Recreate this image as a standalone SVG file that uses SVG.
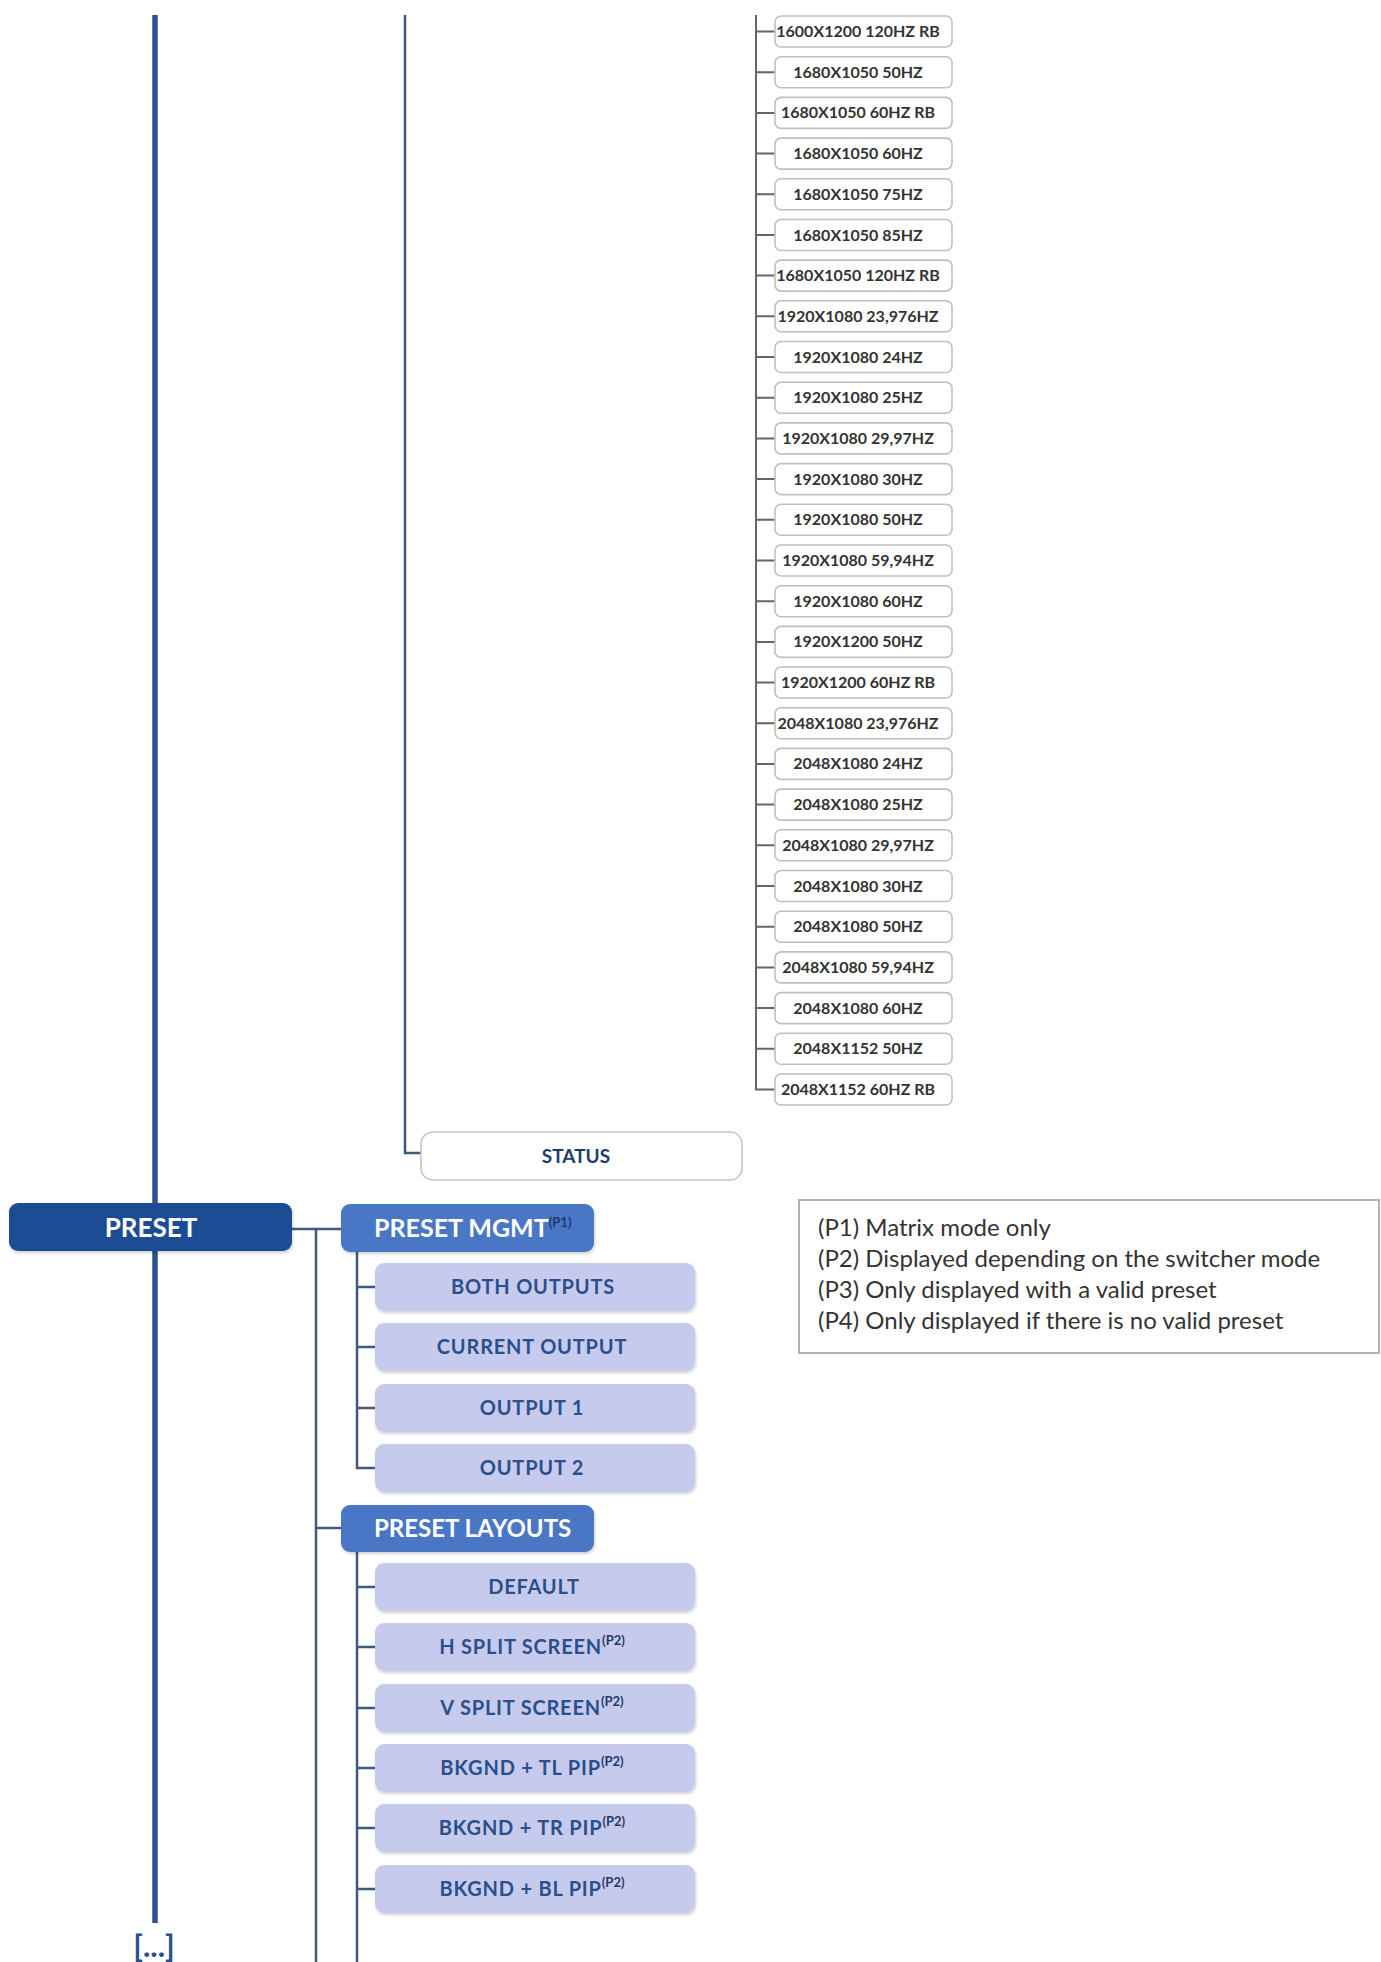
<svg xmlns="http://www.w3.org/2000/svg" width="1381" height="1962" viewBox="0 0 1381 1962">
<defs>
<filter id="sh" x="-5%" y="-20%" width="110%" height="150%">
<feDropShadow dx="1" dy="2" stdDeviation="1.5" flood-color="#000" flood-opacity="0.18"/>
</filter>
<style>
.res rect{fill:#fff;stroke:#bfbfbf;stroke-width:1.6}
.res text{font-family:Lato,"Liberation Sans",sans-serif;font-weight:bold;font-size:16px;fill:#333;text-anchor:middle}
.conn path{fill:none;stroke:#3f5a7c;stroke-width:2.5}
.conn .gray{stroke:#666;stroke-width:2}
.conn .thick{stroke:#2a5190;stroke-width:5.5}
.top rect{fill:#1d4e94}
.sub rect{fill:#4a76c5}
.leaf rect{fill:#c6cbee}
.w{font-family:Lato,"Liberation Sans",sans-serif;font-weight:bold;fill:#fff}
.lt{font-family:Lato,"Liberation Sans",sans-serif;font-weight:bold;font-size:20px;fill:#2b4f8c;letter-spacing:0.8px;text-anchor:middle}
.sup{font-size:13px;font-weight:bold;fill:#1f3a6a;letter-spacing:0}
.leg{font-family:Lato,"Liberation Sans",sans-serif;font-size:24px;fill:#333}
</style>
</defs>
<rect width="1381" height="1962" fill="#fff"/>

<g id="connectors" class="conn">
<path class="thick" d="M155 15V1923"/>
<path d="M405 15V1153H421"/>
<path class="gray" d="M756 15V1089.5H775"/>
<path class="gray" d="M756 31.5H775M756 72.2H775M756 112.9H775M756 153.6H775M756 194.3H775M756 235H775M756 275.6H775M756 316.3H775M756 357H775M756 397.7H775M756 438.4H775M756 479.1H775M756 519.8H775M756 560.5H775M756 601.2H775M756 641.9H775M756 682.5H775M756 723.2H775M756 763.9H775M756 804.6H775M756 845.3H775M756 886H775M756 926.7H775M756 967.4H775M756 1008.1H775M756 1048.8H775"/>
<path d="M292 1229H341M316 1229V1962M316 1528H341"/>
<path d="M357 1252V1468H375M357 1287H375M357 1347H375M357 1408H375"/>
<path d="M357 1552V1962M357 1587H375M357 1647H375M357 1708H375M357 1768H375M357 1828H375M357 1889H375"/>
</g>

<g class="res">
<g id="r0"><rect x="775" y="16" width="177" height="31" rx="6"/><text x="858" y="37">1600X1200 120HZ RB</text></g>
<g id="r1"><rect x="775" y="56.7" width="177" height="31" rx="6"/><text x="858" y="77.7">1680X1050 50HZ</text></g>
<g id="r2"><rect x="775" y="97.4" width="177" height="31" rx="6"/><text x="858" y="118.4">1680X1050 60HZ RB</text></g>
<g id="r3"><rect x="775" y="138.1" width="177" height="31" rx="6"/><text x="858" y="159.1">1680X1050 60HZ</text></g>
<g id="r4"><rect x="775" y="178.8" width="177" height="31" rx="6"/><text x="858" y="199.8">1680X1050 75HZ</text></g>
<g id="r5"><rect x="775" y="219.5" width="177" height="31" rx="6"/><text x="858" y="240.5">1680X1050 85HZ</text></g>
<g id="r6"><rect x="775" y="260.1" width="177" height="31" rx="6"/><text x="858" y="281.1">1680X1050 120HZ RB</text></g>
<g id="r7"><rect x="775" y="300.8" width="177" height="31" rx="6"/><text x="858" y="321.8">1920X1080 23,976HZ</text></g>
<g id="r8"><rect x="775" y="341.5" width="177" height="31" rx="6"/><text x="858" y="362.5">1920X1080 24HZ</text></g>
<g id="r9"><rect x="775" y="382.2" width="177" height="31" rx="6"/><text x="858" y="403.2">1920X1080 25HZ</text></g>
<g id="r10"><rect x="775" y="422.9" width="177" height="31" rx="6"/><text x="858" y="443.9">1920X1080 29,97HZ</text></g>
<g id="r11"><rect x="775" y="463.6" width="177" height="31" rx="6"/><text x="858" y="484.6">1920X1080 30HZ</text></g>
<g id="r12"><rect x="775" y="504.3" width="177" height="31" rx="6"/><text x="858" y="525.3">1920X1080 50HZ</text></g>
<g id="r13"><rect x="775" y="545" width="177" height="31" rx="6"/><text x="858" y="566">1920X1080 59,94HZ</text></g>
<g id="r14"><rect x="775" y="585.7" width="177" height="31" rx="6"/><text x="858" y="606.7">1920X1080 60HZ</text></g>
<g id="r15"><rect x="775" y="626.4" width="177" height="31" rx="6"/><text x="858" y="647.4">1920X1200 50HZ</text></g>
<g id="r16"><rect x="775" y="667" width="177" height="31" rx="6"/><text x="858" y="688">1920X1200 60HZ RB</text></g>
<g id="r17"><rect x="775" y="707.7" width="177" height="31" rx="6"/><text x="858" y="728.7">2048X1080 23,976HZ</text></g>
<g id="r18"><rect x="775" y="748.4" width="177" height="31" rx="6"/><text x="858" y="769.4">2048X1080 24HZ</text></g>
<g id="r19"><rect x="775" y="789.1" width="177" height="31" rx="6"/><text x="858" y="810.1">2048X1080 25HZ</text></g>
<g id="r20"><rect x="775" y="829.8" width="177" height="31" rx="6"/><text x="858" y="850.8">2048X1080 29,97HZ</text></g>
<g id="r21"><rect x="775" y="870.5" width="177" height="31" rx="6"/><text x="858" y="891.5">2048X1080 30HZ</text></g>
<g id="r22"><rect x="775" y="911.2" width="177" height="31" rx="6"/><text x="858" y="932.2">2048X1080 50HZ</text></g>
<g id="r23"><rect x="775" y="951.9" width="177" height="31" rx="6"/><text x="858" y="972.9">2048X1080 59,94HZ</text></g>
<g id="r24"><rect x="775" y="992.6" width="177" height="31" rx="6"/><text x="858" y="1013.6">2048X1080 60HZ</text></g>
<g id="r25"><rect x="775" y="1033.3" width="177" height="31" rx="6"/><text x="858" y="1054.3">2048X1152 50HZ</text></g>
<g id="r26"><rect x="775" y="1074" width="177" height="31" rx="6"/><text x="858" y="1095">2048X1152 60HZ RB</text></g>
</g>

<g id="status"><rect x="421" y="1132" width="321" height="48" rx="12" fill="#fff" stroke="#bfc4cc" stroke-width="1.6"/><text x="576" y="1163" font-family="Lato, 'Liberation Sans', sans-serif" font-weight="bold" font-size="19" fill="#1f3d6b" text-anchor="middle">STATUS</text></g>

<g id="preset" class="top"><rect x="9" y="1203" width="283" height="48" rx="9" filter="url(#sh)"/><text class="w" x="151" y="1237" font-size="26" text-anchor="middle">PRESET</text></g>

<g id="preset-mgmt" class="sub"><rect x="341" y="1204" width="253" height="48" rx="9" filter="url(#sh)"/><text class="w" x="374" y="1237" font-size="25">PRESET MGMT<tspan class="sup" dy="-10">(P1)</tspan></text></g>
<g id="both-outputs" class="leaf"><rect x="375" y="1263" width="320" height="48" rx="9" filter="url(#sh)"/><text class="lt" x="533" y="1294">BOTH OUTPUTS</text></g>
<g id="current-output" class="leaf"><rect x="375" y="1323" width="320" height="48" rx="9" filter="url(#sh)"/><text class="lt" x="532" y="1354">CURRENT OUTPUT</text></g>
<g id="output-1" class="leaf"><rect x="375" y="1384" width="320" height="48" rx="9" filter="url(#sh)"/><text class="lt" x="532" y="1415">OUTPUT 1</text></g>
<g id="output-2" class="leaf"><rect x="375" y="1444" width="320" height="48" rx="9" filter="url(#sh)"/><text class="lt" x="532" y="1475">OUTPUT 2</text></g>

<g id="preset-layouts" class="sub"><rect x="341" y="1505" width="253" height="47" rx="9" filter="url(#sh)"/><text class="w" x="374" y="1537" font-size="24">PRESET LAYOUTS</text></g>
<g id="default" class="leaf"><rect x="375" y="1563" width="320" height="48" rx="9" filter="url(#sh)"/><text class="lt" x="534" y="1594">DEFAULT</text></g>
<g id="h-split" class="leaf"><rect x="375" y="1623" width="320" height="48" rx="9" filter="url(#sh)"/><text class="lt" x="532" y="1654">H SPLIT SCREEN<tspan class="sup" dy="-9">(P2)</tspan></text></g>
<g id="v-split" class="leaf"><rect x="375" y="1684" width="320" height="48" rx="9" filter="url(#sh)"/><text class="lt" x="532" y="1715">V SPLIT SCREEN<tspan class="sup" dy="-9">(P2)</tspan></text></g>
<g id="tl-pip" class="leaf"><rect x="375" y="1744" width="320" height="48" rx="9" filter="url(#sh)"/><text class="lt" x="532" y="1775">BKGND + TL PIP<tspan class="sup" dy="-9">(P2)</tspan></text></g>
<g id="tr-pip" class="leaf"><rect x="375" y="1804" width="320" height="48" rx="9" filter="url(#sh)"/><text class="lt" x="532" y="1835">BKGND + TR PIP<tspan class="sup" dy="-9">(P2)</tspan></text></g>
<g id="bl-pip" class="leaf"><rect x="375" y="1865" width="320" height="48" rx="9" filter="url(#sh)"/><text class="lt" x="532" y="1896">BKGND + BL PIP<tspan class="sup" dy="-9">(P2)</tspan></text></g>

<g id="legend"><rect x="799" y="1200" width="580" height="153" fill="#fff" stroke="#b3b3b3" stroke-width="2"/>
<text class="leg" x="818" y="1236">(P1) Matrix mode only</text>
<text class="leg" x="818" y="1267">(P2) Displayed depending on the switcher mode</text>
<text class="leg" x="818" y="1298">(P3) Only displayed with a valid preset</text>
<text class="leg" x="818" y="1329">(P4) Only displayed if there is no valid preset</text>
</g>

<g id="more"><text x="154" y="1957" font-family="Lato, 'Liberation Sans', sans-serif" font-weight="bold" font-size="31" fill="#2b4f8c" text-anchor="middle">[...]</text></g>
</svg>
